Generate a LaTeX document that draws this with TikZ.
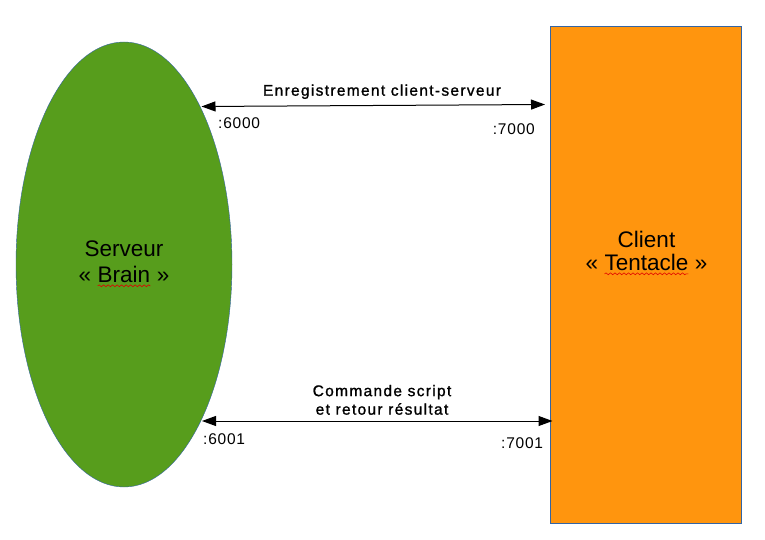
\documentclass[tikz,border=0pt]{standalone}
\usepackage{fontspec}
\setmainfont{Liberation Sans}
\usetikzlibrary{shapes.geometric,arrows.meta,decorations.pathmorphing}

\definecolor{brainGreen}{HTML}{579D1C}
\definecolor{tentacleOrange}{HTML}{FF950E}
\definecolor{edgeBlue}{HTML}{3465A4}
\definecolor{spellRed}{HTML}{E00000}

% red wavy underline (spell check marks)
\newcommand{\spell}[1]{\tikz[baseline=(w.base)]{\node[inner sep=0pt,outer sep=0pt,anchor=base] (w) at (0,0) {#1};
  \draw[spellRed,line width=0.6pt,decorate,decoration={snake,amplitude=0.9pt,segment length=4.5pt}]
    ([yshift=-3pt]w.base west) -- ([yshift=-3pt]w.base east);}}

\tikzset{
  bigtext/.style={font=\fontsize{22.5}{26}\selectfont, align=center, inner sep=0pt},
  linktext/.style={font=\fontsize{15.5}{18.5}\selectfont\addfontfeature{FakeBold=1.2,LetterSpace=8.5}, align=center, inner sep=0pt},
  porttext/.style={font=\fontsize{15.5}{18.5}\selectfont\addfontfeature{LetterSpace=5}, inner sep=0pt},
  link/.style={{Triangle[length=14pt,width=10pt]}-{Triangle[length=14pt,width=10pt]}, line width=1pt}
}

\begin{document}
\begin{tikzpicture}[x=1pt,y=-1pt]
  \useasboundingbox[fill=white] (0,0) rectangle (765,540);

  \node[ellipse, draw=edgeBlue, fill=brainGreen, minimum width=216pt, minimum height=445pt] (srv) at (124,264.5) {};
  \node[rectangle, draw=edgeBlue, line width=1pt, fill=tentacleOrange, minimum width=191pt, minimum height=497pt] (cli) at (645.5,275.3) {};

  \node[bigtext] (srvText) at (124,264) {Serveur\\« \spell{Brain} »};
  \node[bigtext, font=\fontsize{22.5}{23.5}\selectfont] (cliText) at (646.5,253) {Client\\« \spell{Tentacle} »};

  \coordinate (p6000) at (201.5,106.5);
  \coordinate (p7000) at (545,104.5);
  \coordinate (p6001) at (202,421);
  \coordinate (p7001) at (552.5,421);

  \path[link] (p6000) edge (p7000);
  \path[link] (p6001) edge (p7001);

  \node[linktext, anchor=base] (regText) at (382,95.7) {Enregistrement client-serveur};
  \node[linktext, anchor=south] (cmdText) at (382,415) {Commande script\\et retour résultat};

  \node[porttext, anchor=base west] (l6000) at (218,128.7) {:6000};
  \node[porttext, anchor=base east] (l7000) at (535,135) {:7000};
  \node[porttext, anchor=base west] (l6001) at (203,444) {:6001};
  \node[porttext, anchor=base east] (l7001) at (543.3,448.3) {:7001};
\end{tikzpicture}
\end{document}
